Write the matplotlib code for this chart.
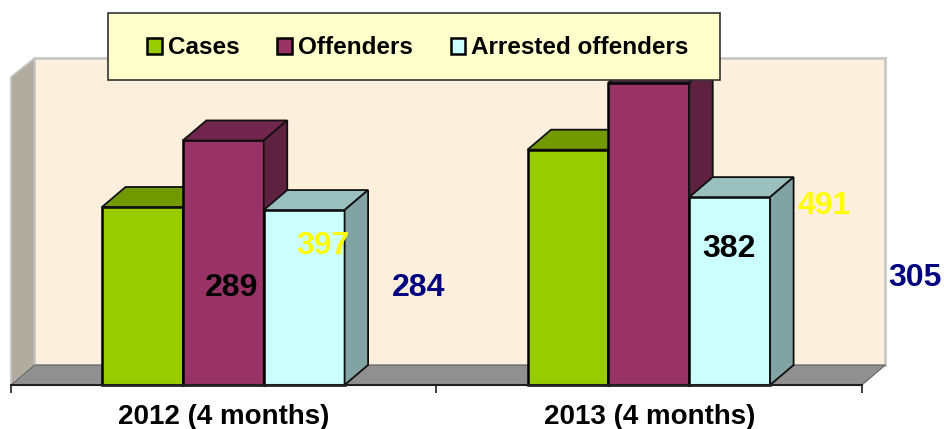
import matplotlib
matplotlib.use('Agg')
import matplotlib.pyplot as plt
from matplotlib.patches import Polygon, Rectangle

W, H = 945, 429

categories = ['2012 (4 months)', '2013 (4 months)']
series_names = ['Cases', 'Offenders', 'Arrested offenders']
cases = [289, 382]
offenders = [397, 491]
arrested = [284, 305]

front_colors = ['#99CC00', '#993366', '#CCFFFF']
top_colors = ['#739900', '#73264D', '#99BFBF']
side_colors = ['#5F7F00', '#5E2140', '#82A3A3']

plt.rcParams['font.family'] = ['Liberation Sans', 'DejaVu Sans']
plt.rcParams['font.weight'] = 'bold'

fig = plt.figure(figsize=(W / 100, H / 100), dpi=100, facecolor='white')
# axes box = front edge of the floor, 500 units tall
ax = fig.add_axes([11 / W, 1 - 385 / H, 851 / W, 308 / H])
ax.set_xlim(0, 2)
ax.set_ylim(0, 500)
ax.patch.set_visible(False)

bar_w = 0.19
dx = 23.5 / 425.5  # depth of the fake 3d, data units
dy = 20 / 0.616


def draw_bar(x, val, i):
    ax.bar(x, val, bar_w, align='edge', color=front_colors[i], edgecolor='black',
           linewidth=1.8, zorder=3 + i * 0.1, clip_on=False)
    top = [(x, val), (x + dx, val + dy), (x + bar_w + dx, val + dy), (x + bar_w, val)]
    side = [(x + bar_w, val), (x + bar_w + dx, val + dy), (x + bar_w + dx, dy), (x + bar_w, 0)]
    ax.add_patch(Polygon(top, fc=top_colors[i], ec='#101010', lw=1.3, zorder=3 + i * 0.1, clip_on=False))
    ax.add_patch(Polygon(side, fc=side_colors[i], ec='#101010', lw=1.3, zorder=3 + i * 0.1, clip_on=False))


# walls and floor
wall = Rectangle((dx, dy), 2, 500 - 2, fc='#FCF0DC', ec='#C8C8C8', lw=2, zorder=1, clip_on=False)
ax.add_patch(wall)
ax.add_patch(Polygon([(0, 0), (dx, dy), (dx, 500 + dy - 2), (0, 500)], fc='#B2AC9E', ec='#C4C4C4',
                     lw=1.2, zorder=1.2, clip_on=False))
ax.add_patch(Polygon([(0, 0), (dx, dy), (2 + dx, dy), (2, 0)], fc='#909090', ec='#505050',
                     lw=0.6, zorder=1.4, clip_on=False))

for c in range(len(categories)):
    for i, vals in enumerate([cases, offenders, arrested]):
        draw_bar(c + 0.5 - 1.5 * bar_w + i * bar_w - 0.001, vals[c], i)

# axis
for s in ['top', 'left', 'right']:
    ax.spines[s].set_visible(False)
ax.spines['bottom'].set_linewidth(1.5)
ax.spines['bottom'].set_color('#202020')
ax.spines['bottom'].set_zorder(5)
ax.set_yticks([])
ax.set_xticks([0, 1, 2])
ax.set_xticklabels([])
ax.set_xticks([0.5, 1.5], minor=True)
ax.set_xticklabels(categories, minor=True, fontsize=20, fontweight='bold')
ax.tick_params(axis='x', which='major', length=6, width=1.2, color='#202020')
ax.tick_params(axis='x', which='minor', length=0, pad=14)

# the value labels sit off the bars in the original
labels = [(289, 232, 288, 'black'), (397, 323, 246, '#FFFF00'), (284, 419, 288, '#000080'),
          (382, 729, 249, 'black'), (491, 824, 206, '#FFFF00'), (305, 915, 278, '#000080')]
for val, px, py, col in labels:
    fig.text(px / W, 1 - py / H, str(val), color=col, fontsize=23, fontweight='bold',
             ha='center', va='center', zorder=6)

# legend
fig.add_artist(Rectangle((108 / W, 1 - 80 / H), 612 / W, 67 / H, transform=fig.transFigure,
                         fc='#FFFFCC', ec='#333333', lw=1.2, zorder=8))
handles = [Rectangle((0, 0), 1, 1, fc=front_colors[i], ec='black', lw=1.8) for i in range(3)]
leg = fig.legend(handles, series_names, loc='center', bbox_to_anchor=(418 / W, 1 - 48 / H),
                 ncol=3, frameon=False, fontsize=17.5, handlelength=0.6, handleheight=0.6,
                 handletextpad=0.25, columnspacing=1.55, borderpad=0, borderaxespad=0)
leg.set_zorder(9)

fig.savefig('out.png', dpi=100)
